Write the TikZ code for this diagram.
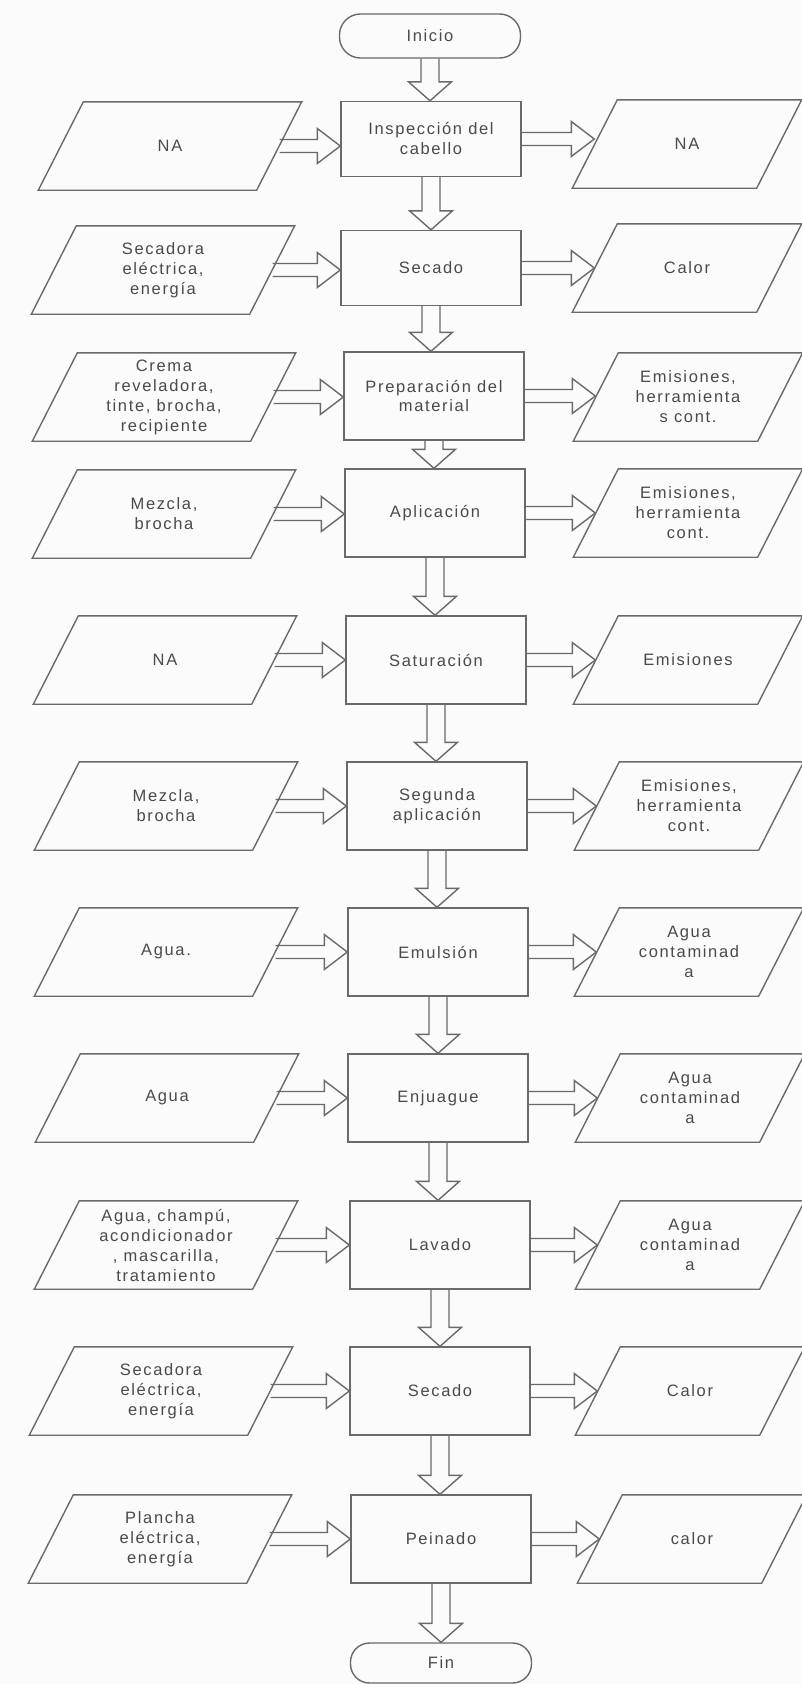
\documentclass[tikz,border=0pt]{standalone}
\usepackage{fontspec}
\setmainfont{Liberation Sans}[LetterSpace=10]
\usepackage{tikz}
\usetikzlibrary{calc}
\definecolor{linea}{HTML}{6A6A6A}
\definecolor{texto}{HTML}{4A4A4A}
\definecolor{fondo}{HTML}{FBFBFB}
\tikzstyle{proceso}=[rectangle, draw=linea, line width=1.4pt, minimum width=180pt, minimum height=88pt, align=center]
\tikzstyle{terminal}=[rectangle, draw=linea, line width=1.4pt, rounded corners=21pt, minimum width=181pt, minimum height=44pt]
\tikzstyle{datos}=[rectangle, minimum height=88pt, align=center, inner sep=0pt]
\tikzstyle{entrada}=[datos, minimum width=265pt]
\tikzstyle{salida}=[datos, minimum width=231pt]
\tikzstyle{flecha}=[draw=linea, line width=1.4pt, line join=miter]
\newcommand{\paralelo}[1]{%
  \draw[flecha] ([xshift=1pt]#1.south west) -- ([xshift=46pt]#1.north west)
    -- ([xshift=-1pt]#1.north east) -- ([xshift=-46pt]#1.south east) -- cycle;
}
\newcommand{\flechabajo}[2]{%
  \draw[flecha] let \p1=(#1.south), \p2=(#2.north) in
    (\x1-9pt,\y1) -- (\x1-9pt,\y2+19pt) -- (\x1-21.5pt,\y2+19pt) -- (\x1,\y2)
    -- (\x1+21.5pt,\y2+19pt) -- (\x1+9pt,\y2+19pt) -- (\x1+9pt,\y1);
}
\newcommand{\flechaent}[2]{%
  \draw[flecha] let \p1=(#1.east), \p2=(#2.west) in
    (\x1-23pt,\y1+6.5pt) -- (\x2-23pt,\y1+6.5pt) -- (\x2-23pt,\y1+17.5pt) -- (\x2,\y1)
    -- (\x2-23pt,\y1-17.5pt) -- (\x2-23pt,\y1-6.5pt) -- (\x1-23pt,\y1-6.5pt);
}
\newcommand{\flechasal}[2]{%
  \draw[flecha] let \p1=(#1.east), \p2=(#2.west) in
    (\x1,\y1+6.5pt) -- (\x2,\y1+6.5pt) -- (\x2,\y1+17.5pt) -- (\x2+23pt,\y1)
    -- (\x2,\y1-17.5pt) -- (\x2,\y1-6.5pt) -- (\x1,\y1-6.5pt);
}

\begin{document}
\begin{tikzpicture}[x=1pt, y=-1pt, font=\fontsize{16.5}{20}\selectfont, text=texto]
\useasboundingbox (0,0) rectangle (801,1684);
\fill[fondo] (0,0) rectangle (801,1684);
\node[terminal] (ini) at (430,36) {Inicio};
\node[proceso, minimum height=75pt] (p1) at (431,139) {Inspección del\\cabello};
\node[entrada] (e1) at (170,146) {NA};
\node[salida] (s1) at (687,144) {NA};
\node[proceso, minimum height=75pt] (p2) at (431,268) {Secado};
\node[entrada] (e2) at (163,270) {Secadora\\eléctrica,\\energía};
\node[salida] (s2) at (687,268) {Calor};
\node[proceso] (p3) at (434,396) {Preparación del\\material};
\node[entrada] (e3) at (164,397) {Crema\\reveladora,\\tinte, brocha,\\recipiente};
\node[salida] (s3) at (688,397) {Emisiones,\\herramienta\\s cont.};
\node[proceso] (p4) at (435,513) {Aplicación};
\node[entrada] (e4) at (164,514) {Mezcla,\\brocha};
\node[salida] (s4) at (688,513) {Emisiones,\\herramienta\\cont.};
\node[proceso] (p5) at (436,660) {Saturación};
\node[entrada] (e5) at (165,660) {NA};
\node[salida] (s5) at (688,660) {Emisiones};
\node[proceso] (p6) at (437,806) {Segunda\\aplicación};
\node[entrada] (e6) at (166,806) {Mezcla,\\brocha};
\node[salida] (s6) at (689,806) {Emisiones,\\herramienta\\cont.};
\node[proceso] (p7) at (438,952) {Emulsión};
\node[entrada] (e7) at (166,952) {Agua.};
\node[salida] (s7) at (689,952) {Agua\\contaminad\\a};
\node[proceso] (p8) at (438,1098) {Enjuague};
\node[entrada] (e8) at (167,1098) {Agua};
\node[salida] (s8) at (690,1098) {Agua\\contaminad\\a};
\node[proceso] (p9) at (440,1245) {Lavado};
\node[entrada] (e9) at (166,1245) {Agua, champú,\\acondicionador\\, mascarilla,\\tratamiento};
\node[salida] (s9) at (690,1245) {Agua\\contaminad\\a};
\node[proceso] (p10) at (440,1391) {Secado};
\node[entrada] (e10) at (161,1391) {Secadora\\eléctrica,\\energía};
\node[salida] (s10) at (690,1391) {Calor};
\node[proceso] (p11) at (441,1539) {Peinado};
\node[entrada] (e11) at (160,1539) {Plancha\\eléctrica,\\energía};
\node[salida] (s11) at (692,1539) {calor};
\node[terminal, minimum height=40pt, rounded corners=19pt] (fin) at (441,1663) {Fin};
% bordes de entradas y salidas
\paralelo{e1} \paralelo{s1}
\paralelo{e2} \paralelo{s2}
\paralelo{e3} \paralelo{s3}
\paralelo{e4} \paralelo{s4}
\paralelo{e5} \paralelo{s5}
\paralelo{e6} \paralelo{s6}
\paralelo{e7} \paralelo{s7}
\paralelo{e8} \paralelo{s8}
\paralelo{e9} \paralelo{s9}
\paralelo{e10} \paralelo{s10}
\paralelo{e11} \paralelo{s11}
% flujo principal
\flechabajo{ini}{p1}
\flechabajo{p1}{p2}
\flechabajo{p2}{p3}
\flechabajo{p3}{p4}
\flechabajo{p4}{p5}
\flechabajo{p5}{p6}
\flechabajo{p6}{p7}
\flechabajo{p7}{p8}
\flechabajo{p8}{p9}
\flechabajo{p9}{p10}
\flechabajo{p10}{p11}
\flechabajo{p11}{fin}
% entradas
\flechaent{e1}{p1}
\flechaent{e2}{p2}
\flechaent{e3}{p3}
\flechaent{e4}{p4}
\flechaent{e5}{p5}
\flechaent{e6}{p6}
\flechaent{e7}{p7}
\flechaent{e8}{p8}
\flechaent{e9}{p9}
\flechaent{e10}{p10}
\flechaent{e11}{p11}
% salidas
\flechasal{p1}{s1}
\flechasal{p2}{s2}
\flechasal{p3}{s3}
\flechasal{p4}{s4}
\flechasal{p5}{s5}
\flechasal{p6}{s6}
\flechasal{p7}{s7}
\flechasal{p8}{s8}
\flechasal{p9}{s9}
\flechasal{p10}{s10}
\flechasal{p11}{s11}
\end{tikzpicture}
\end{document}
